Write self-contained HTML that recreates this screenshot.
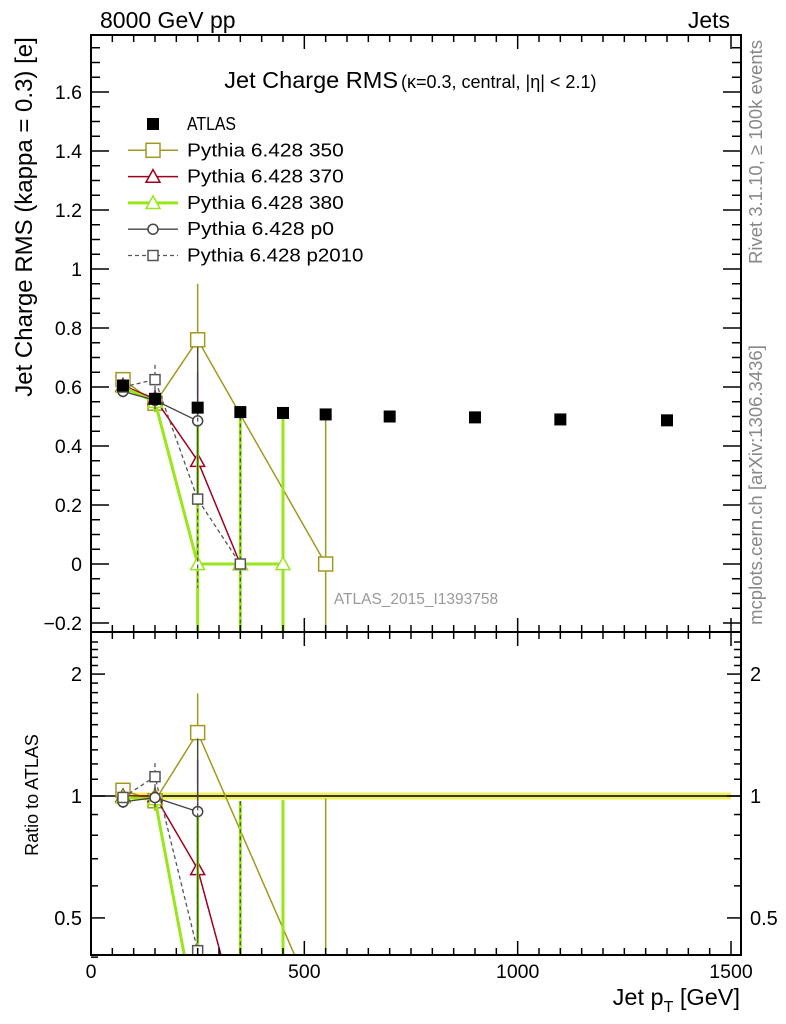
<!DOCTYPE html>
<html><head><meta charset="utf-8"><style>
body{margin:0;background:#fff}
svg{display:block;font-family:"Liberation Sans",sans-serif}
</style></head><body>
<svg id="c" width="786" height="1024" xmlns="http://www.w3.org/2000/svg">
<defs>
<clipPath id="cm"><rect x="91" y="35" width="650" height="597"/></clipPath>
<clipPath id="cr"><rect x="91" y="632" width="650" height="323"/></clipPath>
</defs>
<text x="100" y="28" font-size="23">8000 GeV pp</text>
<text x="730" y="28" font-size="23" text-anchor="end">Jets</text>
<text x="398" y="88" font-size="23.5" text-anchor="end">Jet Charge RMS</text>
<text x="401" y="88" font-size="18">(κ=0.3, central, |η| &lt; 2.1)</text>
<text transform="translate(32,217) rotate(-90)" font-size="24" text-anchor="middle">Jet Charge RMS (kappa = 0.3) [e]</text>
<text transform="translate(38,795) rotate(-90)" font-size="18" text-anchor="middle">Ratio to ATLAS</text>
<text transform="translate(762,152) rotate(-90)" font-size="18.5" fill="#888" text-anchor="middle">Rivet 3.1.10, ≥ 100k events</text>
<text transform="translate(762,485) rotate(-90)" font-size="18.5" fill="#888" text-anchor="middle">mcplots.cern.ch [arXiv:1306.3436]</text>
<text x="416" y="604" font-size="15.5" fill="#999" text-anchor="middle">ATLAS_2015_I1393758</text>
<text x="740" y="1005" font-size="23.5" text-anchor="end">Jet p<tspan font-size="16" dy="7">T</tspan><tspan dy="-7"> [GeV]</tspan></text>
<g id="main" clip-path="url(#cm)"></g>
<g id="ratio" clip-path="url(#cr)"></g>
<g id="axes"></g>
<g id="legend"></g>
</svg>
<script>
const xCenters=[75,150,250,350,450,550,700,900,1100,1350];
const atlas=[0.605,0.56,0.53,0.515,0.512,0.507,0.50,0.497,0.49,0.487];
const p350=[0.625,0.545,0.76,null,null,0.0];
const p350err=[0.02,0.03,0.19,0,0,0.5];
const p370=[0.605,0.56,0.35,0.0];
const p370err=[0.02,0.03,0.3,0.5];
const p380=[0.6,0.55,0.0,0.0,0.0];
const p380err=[0.02,0.03,0.5,0.5,0.5];
const p0=[0.585,0.555,0.485];
const p0err=[0.02,0.03,0.25];
const p2010=[0.6,0.625,0.22,0.0];
const p2010err=[0.02,0.05,0.3,0.5];
const yTicks=[-0.2,0,0.2,0.4,0.6,0.8,1,1.2,1.4,1.6];
const yTickLabels=["−0.2","0","0.2","0.4","0.6","0.8","1","1.2","1.4","1.6"];
const xTicks=[0,500,1000,1500];
const rTicks=[0.5,1,2];

const NS="http://www.w3.org/2000/svg";
const X=v=>91+v*0.42667;
const Y=v=>564-v*295;
const R=v=>796-Math.log10(Math.max(v,0.27))*405;
function el(t,a,p){const e=document.createElementNS(NS,t);for(const k in a)e.setAttribute(k,a[k]);p.appendChild(e);return e;}
const main=document.getElementById('main'),ratio=document.getElementById('ratio'),axes=document.getElementById('axes'),leg=document.getElementById('legend');

const band=el('rect',{x:X(60),y:R(1.02),width:X(1500)-X(60),height:R(0.98)-R(1.02),fill:'#f0f060'},ratio);


const one=el('line',{x1:91,x2:741,y1:R(1),y2:R(1),stroke:'#000','stroke-width':1.5},ratio);



function marker(g,type,cx,cy,col,s,fill){
  if(type==='sq')return el('rect',{x:cx-s,y:cy-s,width:2*s,height:2*s,fill:fill||'#fff',stroke:col,'stroke-width':1.5},g);
  if(type==='tri')return el('path',{d:`M${cx} ${cy-s} L${cx+s} ${cy+s*0.8} L${cx-s} ${cy+s*0.8}Z`,fill:'#fff',stroke:col,'stroke-width':1.5},g);
  return el('circle',{cx:cx,cy:cy,r:s,fill:'#fff',stroke:col,'stroke-width':1.5},g);
}
const series=[
 {name:'pythia-350',vals:p350,err:p350err,col:'#a09a20',m:'sq',s:7,w:1.5,dash:''},
 {name:'pythia-370',vals:p370,err:p370err,col:'#a00020',m:'tri',s:7,w:1.5,dash:''},
 {name:'pythia-380',vals:p380,err:p380err,col:'#99e619',m:'tri',s:7,w:3,dash:''},
 {name:'pythia-p0',vals:p0,err:p0err,col:'#444',m:'circ',s:5,w:1.3,dash:''},
 {name:'pythia-p2010',vals:p2010,err:p2010err,col:'#555',m:'sq',s:5,w:1.3,dash:'4,3'}
];
series.forEach(sr=>{
  [[main,Y,v=>v],[ratio,R,(v,i)=>v/atlas[i]]].forEach(([g,Ay,f],pi)=>{
    const grp=el('g',{},g);
    
    
    const pts=[];
    sr.vals.forEach((v,i)=>{if(v!==null)pts.push([X(xCenters[i]),Ay(f(v,i)),i]);});
    sr.vals.forEach((v,i)=>{if(v===null)return;
      const e=sr.err[i],lo=f(v-e,i),hi=f(v+e,i);
      const eb=el('line',{x1:X(xCenters[i]),x2:X(xCenters[i]),y1:Ay(hi),y2:pi?Ay(Math.max(lo,0.001)):Ay(lo),stroke:sr.col,'stroke-width':sr.w,'stroke-dasharray':sr.dash},grp);
      
      
    });
    const pl=el('polyline',{points:pts.map(p=>p[0]+','+p[1]).join(' '),fill:'none',stroke:sr.col,'stroke-width':sr.w,'stroke-dasharray':sr.dash},grp);
    
    
    pts.forEach(p=>{const mk=marker(grp,sr.m,p[0],p[1],sr.col,sr.s);
      
      });
  });
});
const ag=el('g',{},main);


atlas.forEach((v,i)=>{const r=el('rect',{x:X(xCenters[i])-6,y:Y(v)-6,width:12,height:12,fill:'#000'},ag);
  
  });

[[35,632],[632,955]].forEach(([t,b],k)=>{
  const fr=el('rect',{x:91,y:t,width:650,height:b-t,fill:'none',stroke:'#000','stroke-width':2},axes);
  
  
  for(let v=0;v<=1520;v+=50){const big=v%500===0,l=big?14:7;
    el('line',{x1:X(v),x2:X(v),y1:b,y2:b-l,stroke:'#000','stroke-width':1.5},axes);
    el('line',{x1:X(v),x2:X(v),y1:t,y2:t+l,stroke:'#000','stroke-width':1.5},axes);}
});
for(let v=-0.2;v<=1.78;v+=0.05){const vv=Math.round(v*100)/100,big=Math.abs(vv*5-Math.round(vv*5))<1e-6,l=big?18:9;
  el('line',{x1:91,x2:91+l,y1:Y(vv),y2:Y(vv),stroke:'#000','stroke-width':1.5},axes);
  el('line',{x1:741,x2:741-l,y1:Y(vv),y2:Y(vv),stroke:'#000','stroke-width':1.5},axes);}
yTicks.forEach((v,i)=>{const t=el('text',{x:82,y:Y(v)+7,'font-size':19.5,'text-anchor':'end'},axes);t.textContent=yTickLabels[i];
  
  });
for(let v=0.5;v<=2.5;v+=0.1){const vv=Math.round(v*10)/10,big=rTicks.includes(vv),l=big?14:7;
  el('line',{x1:91,x2:91+l,y1:R(vv),y2:R(vv),stroke:'#000','stroke-width':1.5},axes);
  el('line',{x1:741,x2:741-l,y1:R(vv),y2:R(vv),stroke:'#000','stroke-width':1.5},axes);}
el('line',{x1:91,x2:98,y1:R(0.4),y2:R(0.4),stroke:'#000','stroke-width':1.5},axes);
rTicks.forEach(v=>{[[82,'end'],[750,'start']].forEach(([x,a])=>{const t=el('text',{x:x,y:R(v)+7,'font-size':20,'text-anchor':a},axes);t.textContent=String(v);
  
  });});
xTicks.forEach(v=>{const t=el('text',{x:X(v),y:978,'font-size':19.5,'text-anchor':'middle'},axes);t.textContent=String(v);
  
  });

const legItems=[['ATLAS',null],['Pythia 6.428 350',series[0]],['Pythia 6.428 370',series[1]],['Pythia 6.428 380',series[2]],['Pythia 6.428 p0',series[3]],['Pythia 6.428 p2010',series[4]]];
legItems.forEach(([lab,sr],i)=>{const y=124+i*26.3;const g=el('g',{},leg);
  
  
  if(!sr){el('rect',{x:147,y:y-6,width:12,height:12,fill:'#000'},g);}
  else{el('line',{x1:128,x2:178,y1:y,y2:y,stroke:sr.col,'stroke-width':sr.w,'stroke-dasharray':sr.dash},g);marker(g,sr.m,153,y,sr.col,sr.s);}
  const t=el('text',{x:187,y:y+6,'font-size':18,'textLength':lab.length*9.8,'lengthAdjust':'spacingAndGlyphs'},g);t.textContent=lab;});
</script>
</body></html>
